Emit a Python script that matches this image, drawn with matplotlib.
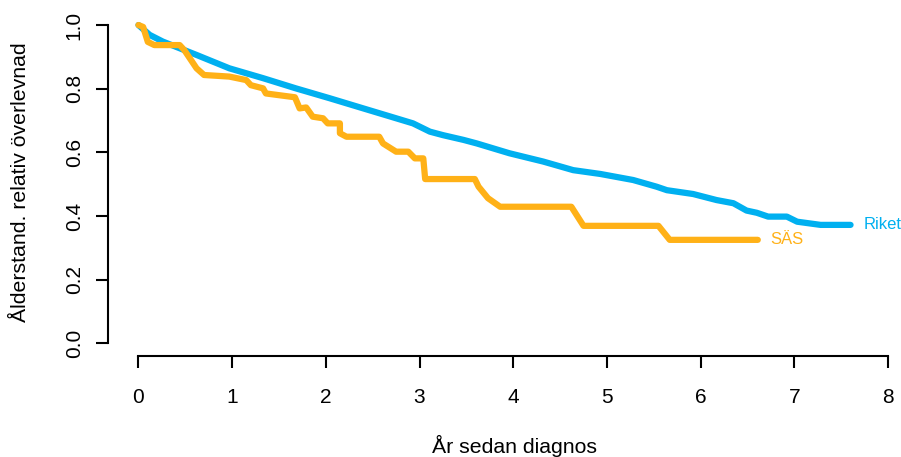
import matplotlib
matplotlib.use("Agg")
import matplotlib.pyplot as plt

plt.rcParams['font.family'] = ['Liberation Sans', 'DejaVu Sans']

riket_x = [0, 0.12, 0.26, 0.62, 0.97, 1.33, 1.68, 2.04, 2.40, 2.75, 2.93, 3.11, 3.25, 3.47, 3.61,
           3.96, 4.32, 4.64, 4.93, 5.28, 5.53, 5.64, 5.92, 6.17, 6.35, 6.49, 6.60, 6.72, 6.92, 7.03,
           7.28, 7.60]
riket_y = [1.0, 0.969, 0.948, 0.906, 0.864, 0.833, 0.801, 0.770, 0.738, 0.707, 0.691, 0.665, 0.654,
           0.639, 0.628, 0.597, 0.571, 0.544, 0.532, 0.513, 0.492, 0.481, 0.469, 0.450, 0.440, 0.417,
           0.410, 0.398, 0.398, 0.382, 0.372, 0.372]

sas_x = [0, 0.05, 0.1, 0.17, 0.44, 0.49, 0.62, 0.70, 0.97, 1.15, 1.2, 1.33, 1.36, 1.67, 1.72, 1.79,
         1.86, 1.97, 2.02, 2.15, 2.15, 2.22, 2.57, 2.61, 2.75, 2.88, 2.95, 3.04, 3.06, 3.59, 3.63,
         3.73, 3.86, 4.62, 4.75, 5.55, 5.67, 6.61]
sas_y = [1.0, 0.994, 0.947, 0.937, 0.937, 0.921, 0.864, 0.843, 0.838, 0.827, 0.811, 0.801, 0.785,
         0.773, 0.738, 0.741, 0.712, 0.707, 0.691, 0.691, 0.660, 0.649, 0.649, 0.628, 0.602, 0.602,
         0.581, 0.581, 0.516, 0.516, 0.492, 0.456, 0.429, 0.429, 0.369, 0.369, 0.325, 0.325]

x_ticks = [0, 1, 2, 3, 4, 5, 6, 7, 8]
y_ticks = [0.0, 0.2, 0.4, 0.6, 0.8, 1.0]
y_ticklabels = ["0.0", "0.2", "0.4", "0.6", "0.8", "1.0"]

blue = "#00b0f0"
orange = "#ffb117"

W, H = 901, 457
fig = plt.figure(figsize=(W / 100, H / 100), dpi=100)
left, right, bottom, top = 108, 897.4, 356, 12.3
aw, ah = right - left, bottom - top
ax = fig.add_axes([left / W, (H - bottom) / H, aw / W, ah / H])
ax.set_xlim(-0.325, 8.1)
ax.set_ylim(-0.04, 1.04)

ax.plot(riket_x, riket_y, color=blue, lw=4.5, solid_capstyle='round', solid_joinstyle='round')
ax.plot(sas_x, sas_y, color=orange, lw=4.5, solid_capstyle='round', solid_joinstyle='round')

ax.text(7.74, riket_y[-1], "Riket", color=blue, fontsize=12, ha='left', va='center')
ax.text(6.74, sas_y[-1], "SÄS", color=orange, fontsize=12, ha='left', va='center')

for s in ['top', 'right']:
    ax.spines[s].set_visible(False)
ax.spines['left'].set_bounds(0, 1)
ax.spines['bottom'].set_bounds(0, 8)
for s in ['left', 'bottom']:
    ax.spines[s].set_linewidth(1.5)

ax.set_xticks(x_ticks)
ax.set_yticks(y_ticks)
ax.set_yticklabels(y_ticklabels, rotation=90, va='center')
ax.tick_params(axis='both', direction='out', length=8.5, width=1.5, labelsize=15, pad=9)
ax.tick_params(axis='x', pad=14.5)
ax.set_xlabel("År sedan diagnos", fontsize=15.3, va='center')
ax.set_ylabel("Ålderstand. relativ överlevnad", fontsize=15.3, va='center')
ax.xaxis.set_label_coords((514 - left) / aw, -(446 - bottom) / ah)
ax.yaxis.set_label_coords((20 - left) / aw, 0.5 + (184 - 182) / ah)

fig.savefig("out.png", dpi=100)
